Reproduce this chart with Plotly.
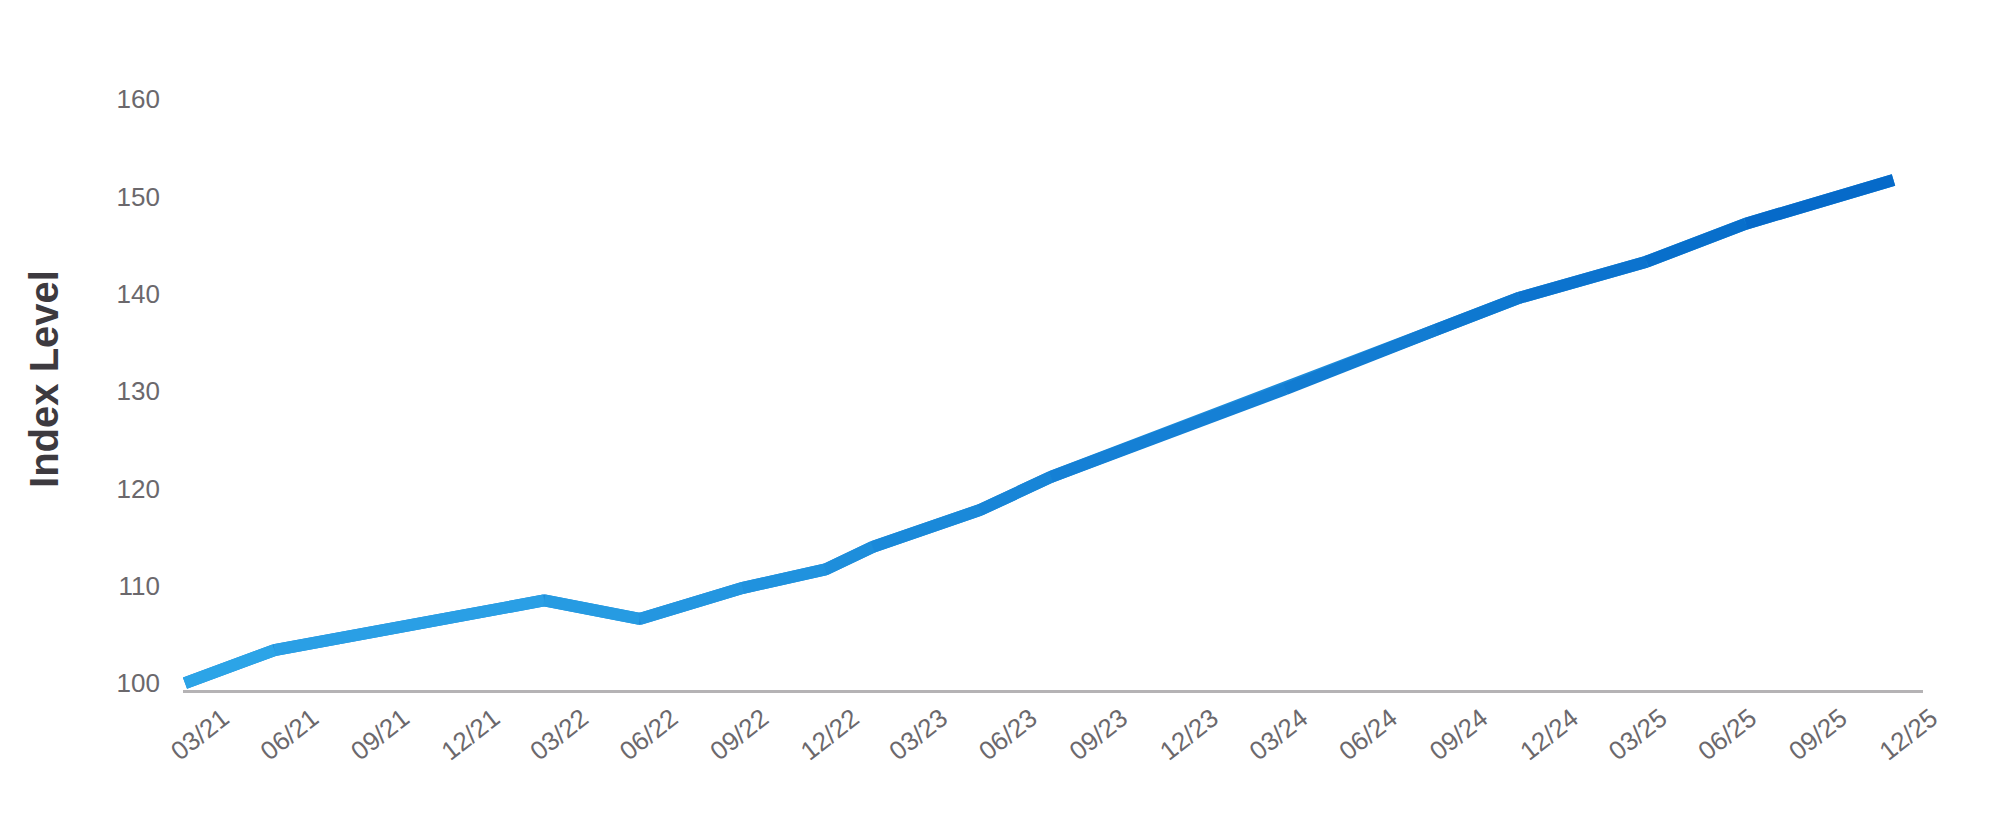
import plotly.graph_objects as go

# ---- data ----
dates = ["2021-03-31", "2021-06-30", "2022-03-31", "2022-07-06", "2022-10-19",
         "2023-01-11", "2023-02-28", "2023-06-17", "2023-08-28", "2024-04-22",
         "2024-09-22", "2024-12-16", "2025-04-24", "2025-08-03", "2025-12-31"]
index_level = [100.0, 103.4, 108.5, 106.6, 109.8,
               111.7, 114.0, 117.8, 121.2, 130.2,
               136.3, 139.6, 143.3, 147.2, 151.7]

tick_dates = ["2021-03-31", "2021-06-30", "2021-09-30", "2021-12-31",
              "2022-03-31", "2022-06-30", "2022-09-30", "2022-12-31",
              "2023-03-31", "2023-06-30", "2023-09-30", "2023-12-31",
              "2024-03-31", "2024-06-30", "2024-09-30", "2024-12-31",
              "2025-03-31", "2025-06-30", "2025-09-30", "2025-12-31"]
tick_labels = ["03/21", "06/21", "09/21", "12/21", "03/22", "06/22", "09/22", "12/22",
               "03/23", "06/23", "09/23", "12/23", "03/24", "06/24", "09/24", "12/24",
               "03/25", "06/25", "09/25", "12/25"]
y_ticks = [100, 110, 120, 130, 140, 150, 160]

# ---- styling ----
c_start = (46, 166, 232)
c_end = (4, 104, 200)
LW = 12

fig = go.Figure()

# underlay to fill joints between colour segments
fig.add_trace(go.Scatter(x=dates, y=index_level, mode="lines",
                         line=dict(color="rgb(30,140,218)", width=LW),
                         hoverinfo="skip", showlegend=False))

n = len(dates)
for i in range(n - 1):
    t = (i + 0.5) / (n - 1)
    col = tuple(round(a + (b - a) * t) for a, b in zip(c_start, c_end))
    fig.add_trace(go.Scatter(x=dates[i:i + 2], y=index_level[i:i + 2], mode="lines",
                             line=dict(color="rgb(%d,%d,%d)" % col, width=LW),
                             hoverinfo="skip", showlegend=False))

font_family = "Liberation Sans, Arial, sans-serif"
fig.update_layout(
    width=2000, height=830,
    margin=dict(l=175, r=85, t=60, b=148),
    paper_bgcolor="white", plot_bgcolor="white",
    showlegend=False,
    font=dict(family=font_family, color="#6b686c", size=26),
)
fig.update_xaxes(
    type="date",
    range=["2021-03-29", "2026-01-30"],
    tickmode="array", tickvals=tick_dates, ticktext=tick_labels,
    tickangle=-38,
    ticklabelshift=38, ticklabelstandoff=0,
    tickfont=dict(size=26, color="#6b686c", family=font_family),
    showgrid=False, zeroline=False,
    showline=True, linecolor="#b5b3b5", linewidth=3,
    ticks="",
)
fig.update_yaxes(
    range=[99.3, 163.2],
    tickmode="array", tickvals=y_ticks,
    tickfont=dict(size=26, color="#6b686c", family=font_family),
    ticklabelstandoff=22,
    showgrid=False, zeroline=False, showline=False, ticks="",
    title=dict(text="<b>Index Level</b>", standoff=45,
               font=dict(size=40, color="#3d3a3f", family=font_family)),
)

fig.write_html("out.html")
